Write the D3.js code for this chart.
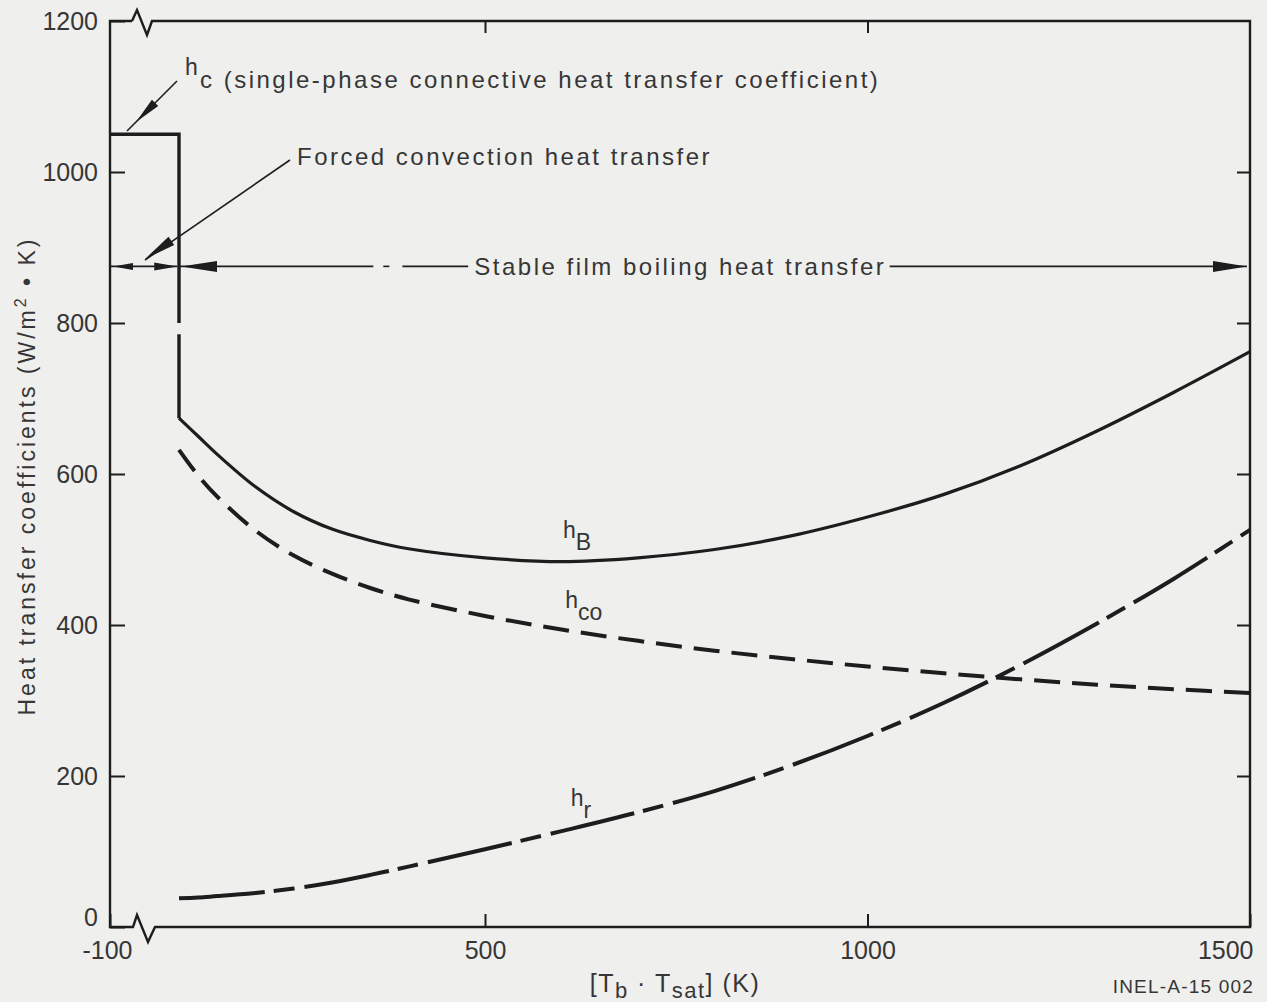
<!DOCTYPE html>
<html><head><meta charset="utf-8">
<script src="https://cdn.jsdelivr.net/npm/d3@7"></script>
<style>
body{margin:0;background:#efefed;}
svg{display:block;}
text{font-family:"Liberation Sans",Arial,Helvetica,sans-serif;fill:#363636;}
</style></head><body>
<svg id="chart" width="1267" height="1002"></svg>
<script>
// ---------- data ----------
const xTickValues = [-100, 500, 1000, 1500];
const yTickValues = [0, 200, 400, 600, 800, 1000, 1200];
const temps = [100,125,150,200,250,300,350,400,500,600,700,800,900,1000,1100,1200,1300,1400,1500];
const hB  = [674,650,626,583,550,527,512,501,489,484,489,500,518,543,573,611,657,708,762];
const hCO = [632,598,570,525,492,468,449,434,412,394,379,366,355,345,336,328,321,315,310];
const hR  = [38,39,41,45,51,59,69,80,103,127,152,180,214,253,297,347,402,461,526];
const hcRange = [-100, 100];
const hcValue = 1050;
const hcGap = [800, 785];
const arrowLevel = 875;
const curveLabels = [
  {t: 602, v: 515, main: "h", sub: "B"},
  {t: 605, v: 422, main: "h", sub: "co"},
  {t: 612, v: 160, main: "h", sub: "r"}
];

// ---------- scales ----------
const svg = d3.select("#chart");
const x = d3.scaleLinear().domain([-100, 100, 1500]).range([110, 179, 1250]);
const y = d3.scaleLinear().domain([0, 1200]).range([927, 21]);
const ink = "#1d1d1d";

// ---------- frame with breaks ----------
const L = x(-100), R = x(1500), T = y(1200), B = y(0);
svg.append("path")
  .attr("d", `M${L+22},${T} H${L} V${B} H${L+23} L${L+27},${B-12} L${L+38},${B+15} L${L+45},${B} H${R} V${T} H${L+42} L${L+37},${T+14} L${L+27},${T-11} L${L+22},${T}`)
  .attr("fill", "none").attr("stroke", ink).attr("stroke-width", 2.4).attr("stroke-linejoin", "miter");

// ---------- axes ----------
const fmt = d => String(d);
const gl = svg.append("g").attr("transform", `translate(${L},0)`)
  .call(d3.axisLeft(y).tickValues(yTickValues).tickSize(-15).tickPadding(12).tickFormat(fmt));
gl.selectAll("text").filter(d => d === 0).attr("dy", "-0.05em");
const gr = svg.append("g").attr("transform", `translate(${R},0)`)
  .call(d3.axisRight(y).tickValues([200,400,600,800,1000]).tickSize(-13).tickFormat(""));
const gb = svg.append("g").attr("transform", `translate(0,${B})`)
  .call(d3.axisBottom(x).tickValues(xTickValues).tickSize(-13).tickPadding(14).tickFormat(fmt));
gb.selectAll("text").filter(d => d === 1500).attr("text-anchor", "end").attr("dx", 3);
gb.selectAll("text").filter(d => d === -100).attr("dx", -3);
const gt = svg.append("g").attr("transform", `translate(0,${T})`)
  .call(d3.axisTop(x).tickValues([500, 1000]).tickSize(-12).tickFormat(""));
[gl, gr, gb, gt].forEach(g => {
  g.select(".domain").remove();
  g.selectAll("line").attr("stroke", ink).attr("stroke-width", 2);
  g.selectAll("text").attr("font-size", 25).attr("fill", "#363636")
    .attr("font-family", '"Liberation Sans", Arial, sans-serif');
});

// ---------- h_c step and transition ----------
svg.append("path")
  .attr("d", `M${x(hcRange[0])},${y(hcValue)} H${x(hcRange[1])} V${y(hcGap[0])} M${x(hcRange[1])},${y(hcGap[1])} V${y(hB[0])}`)
  .attr("fill", "none").attr("stroke", ink).attr("stroke-width", 3.4).attr("stroke-linejoin", "miter");

// ---------- curves ----------
const line = d3.line().x(d => x(d.t)).y(d => y(d.v)).curve(d3.curveCatmullRom.alpha(0.5));
const series = [
  {vals: hB,  dash: null,            w: 3.2},
  {vals: hCO, dash: "26,12",         w: 4},
  {vals: hR,  dash: "86,9,21,10",    w: 4}
];
series.forEach(s => {
  svg.append("path")
    .datum(temps.map((t, i) => ({t, v: s.vals[i]})))
    .attr("d", line)
    .attr("fill", "none").attr("stroke", ink).attr("stroke-width", s.w)
    .attr("stroke-dasharray", s.dash);
});

// curve labels
curveLabels.forEach(c => {
  const t = svg.append("text").attr("x", x(c.t)).attr("y", y(c.v)).attr("font-size", 23);
  t.append("tspan").text(c.main);
  t.append("tspan").attr("dy", 12).attr("font-size", 23).text(c.sub);
});

// ---------- annotations ----------
function head(tipX, tipY, angleDeg, len, wid) {
  const a = angleDeg * Math.PI / 180;
  const bx = tipX - len * Math.cos(a), by = tipY - len * Math.sin(a);
  const nx = -Math.sin(a) * wid / 2, ny = Math.cos(a) * wid / 2;
  svg.append("path")
    .attr("d", `M${tipX},${tipY} L${bx+nx},${by+ny} L${bx-nx},${by-ny} Z`)
    .attr("fill", ink);
}
const thin = 1.6;
const ay = y(arrowLevel);

// horizontal region arrows
const hSegs = [[-100, 95], [100, 354], [367, 375], [392, 478], [1029, 1496]];
hSegs.forEach(s => {
  svg.append("line").attr("x1", x(s[0])).attr("x2", x(s[1])).attr("y1", ay).attr("y2", ay)
    .attr("stroke", ink).attr("stroke-width", thin);
});
head(x(-100) + 3, ay, 180, 20, 7);
head(x(95), ay, 0, 23, 8);
head(x(100) + 2, ay, 180, 36, 11);
head(x(1500) - 3, ay, 0, 34, 11);

svg.append("text").attr("x", x(486)).attr("y", ay + 8.5)
  .attr("font-size", 24).attr("letter-spacing", 2.5)
  .text("Stable film boiling heat transfer");

// h_c annotation
svg.append("text").attr("x", 185).attr("y", 75).attr("font-size", 23).text("h");
svg.append("text").attr("x", 200).attr("y", 88).attr("font-size", 24).attr("letter-spacing", 2.5)
  .text("c (single-phase connective heat transfer coefficient)");
svg.append("line").attr("x1", 177).attr("y1", 81).attr("x2", 127).attr("y2", 131)
  .attr("stroke", ink).attr("stroke-width", thin);
head(136, 122, 135, 27, 9);

// forced convection annotation
svg.append("text").attr("x", 297).attr("y", 165).attr("font-size", 24).attr("letter-spacing", 2.5)
  .text("Forced convection heat transfer");
svg.append("line").attr("x1", 290).attr("y1", 160).attr("x2", 145).attr("y2", 260)
  .attr("stroke", ink).attr("stroke-width", thin);
head(145, 259, 145.4, 32, 10);

// ---------- axis titles ----------
const yt = svg.append("text")
  .attr("transform", `translate(35,${476}) rotate(-90)`)
  .attr("text-anchor", "middle").attr("font-size", 23).attr("letter-spacing", 3);
yt.append("tspan").text("Heat transfer coefficients (W/m");
yt.append("tspan").attr("dy", -9).attr("font-size", 16).text("2");
yt.append("tspan").attr("dy", 9).text(" \u2022 K)");

const xt = svg.append("text").attr("x", 675).attr("y", 992).attr("text-anchor", "middle")
  .attr("font-size", 25).attr("letter-spacing", 1.5);
xt.append("tspan").text("[T");
xt.append("tspan").attr("dy", 6).attr("font-size", 22).text("b");
xt.append("tspan").attr("dy", -6).text(" \u00b7 T");
xt.append("tspan").attr("dy", 6).attr("font-size", 22).text("sat");
xt.append("tspan").attr("dy", -6).text("] (K)");

svg.append("text").attr("x", 1254).attr("y", 993).attr("text-anchor", "end")
  .attr("font-size", 19).attr("letter-spacing", 1.2).text("INEL-A-15 002");
</script>
</body></html>
